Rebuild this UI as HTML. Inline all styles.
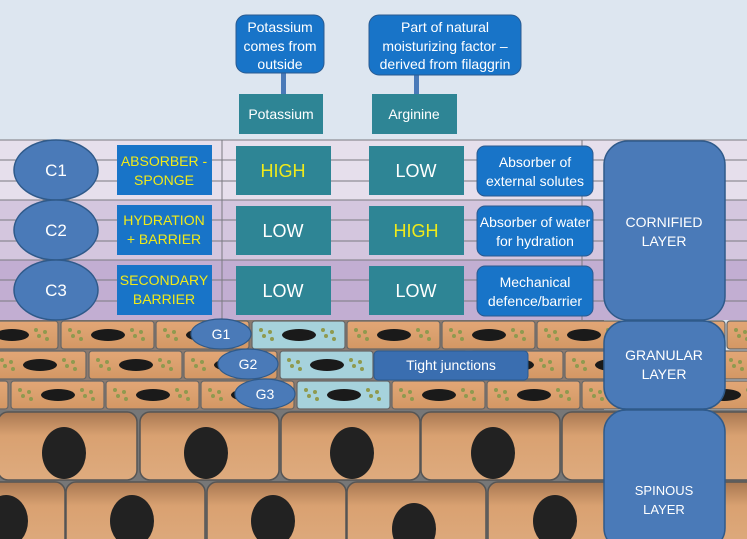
<!DOCTYPE html>
<html><head><meta charset="utf-8"><style>
html,body{margin:0;padding:0;background:#dde6f0}
svg{display:block}
text{font-family:"Liberation Sans",sans-serif}
</style></head><body>
<svg width="747" height="539" viewBox="0 0 747 539" xmlns="http://www.w3.org/2000/svg">
<defs>
<linearGradient id="og" x1="0" y1="0" x2="0" y2="1"><stop offset="0" stop-color="#e3a676"/><stop offset="0.5" stop-color="#daa06e"/><stop offset="1" stop-color="#d49764"/></linearGradient>
<linearGradient id="sg" x1="0" y1="0" x2="0" y2="1"><stop offset="0" stop-color="#a97852"/><stop offset="0.35" stop-color="#d9a171"/><stop offset="1" stop-color="#deab7e"/></linearGradient>
<g id="dots"><circle cx="0" cy="0" r="2" fill="#8f9a4f"/><circle cx="6" cy="-4" r="2" fill="#8f9a4f"/><circle cx="8" cy="3" r="2" fill="#8f9a4f"/><circle cx="-3" cy="-6" r="2" fill="#8f9a4f"/></g>
<g id="gc"><rect x="0" y="0" width="93" height="28" rx="3" fill="url(#og)" stroke="#666" stroke-width="1.2"/><ellipse cx="47" cy="14" rx="17" ry="6" fill="#1a1a1a"/><use href="#dots" x="12" y="15"/><use href="#dots" x="74" y="15"/></g>
<g id="gb"><rect x="0" y="0" width="93" height="28" rx="3" fill="#a6d2dc" stroke="#666" stroke-width="1.2"/><ellipse cx="47" cy="14" rx="17" ry="6" fill="#1a1a1a"/><use href="#dots" x="12" y="15"/><use href="#dots" x="74" y="15"/></g>
<g id="sc"><rect x="0" y="0" width="139" height="68" rx="10" fill="url(#sg)" stroke="#555" stroke-width="1.5"/></g>
</defs>
<rect x="0" y="0" width="747" height="140" fill="#dde6f0"/>
<!-- cornified rows -->
<rect x="0" y="140" width="747" height="60" fill="#e6dfec"/>
<rect x="0" y="200" width="747" height="60" fill="#d4c6de"/>
<rect x="0" y="260" width="747" height="60" fill="#c2aed2"/>
<g stroke="#7a7a80" stroke-width="1">
<line x1="0" y1="140" x2="747" y2="140"/><line x1="0" y1="160" x2="747" y2="160"/><line x1="0" y1="181" x2="747" y2="181"/>
<line x1="0" y1="200" x2="747" y2="200"/><line x1="0" y1="220" x2="747" y2="220"/><line x1="0" y1="241" x2="747" y2="241"/>
<line x1="0" y1="260" x2="747" y2="260"/><line x1="0" y1="280" x2="747" y2="280"/><line x1="0" y1="301" x2="747" y2="301"/>
<line x1="222" y1="140" x2="222" y2="320"/><line x1="582" y1="140" x2="582" y2="320"/>
</g>
<!-- granular rows -->
<rect x="0" y="320" width="604" height="90" fill="#8a7a70"/>
<g>
<use href="#gc" x="-35" y="321"/><use href="#gc" x="61" y="321"/><use href="#gc" x="156" y="321"/><use href="#gb" x="252" y="321"/><use href="#gc" x="347" y="321"/><use href="#gc" x="442" y="321"/><use href="#gc" x="537" y="321"/><use href="#gc" x="632" y="321"/><use href="#gc" x="727" y="321"/>
<use href="#gc" x="-7" y="351"/><use href="#gc" x="89" y="351"/><use href="#gc" x="184" y="351"/><use href="#gb" x="280" y="351"/><use href="#gc" x="375" y="351"/><use href="#gc" x="470" y="351"/><use href="#gc" x="565" y="351"/><use href="#gc" x="660" y="351"/>
<use href="#gc" x="-85" y="381"/><use href="#gc" x="11" y="381"/><use href="#gc" x="106" y="381"/><use href="#gc" x="201" y="381"/><use href="#gb" x="297" y="381"/><use href="#gc" x="392" y="381"/><use href="#gc" x="487" y="381"/><use href="#gc" x="582" y="381"/><use href="#gc" x="677" y="381"/>
</g>
<!-- spinous -->
<rect x="0" y="410" width="747" height="129" fill="#777"/>
<use href="#sc" x="-2" y="412"/><use href="#sc" x="140" y="412"/><use href="#sc" x="281" y="412"/><use href="#sc" x="421" y="412"/><use href="#sc" x="562" y="412"/><use href="#sc" x="703" y="412"/>
<use href="#sc" x="-74" y="482"/><use href="#sc" x="66" y="482"/><use href="#sc" x="207" y="482"/><use href="#sc" x="347" y="482"/><use href="#sc" x="488" y="482"/><use href="#sc" x="628" y="482"/>
<g fill="#222">
<ellipse cx="64" cy="453" rx="22" ry="26"/><ellipse cx="206" cy="453" rx="22" ry="26"/><ellipse cx="352" cy="453" rx="22" ry="26"/><ellipse cx="493" cy="453" rx="22" ry="26"/>
<ellipse cx="6" cy="521" rx="22" ry="26"/><ellipse cx="132" cy="521" rx="22" ry="26"/><ellipse cx="273" cy="521" rx="22" ry="26"/><ellipse cx="414" cy="529" rx="22" ry="26"/><ellipse cx="555" cy="521" rx="22" ry="26"/>
</g>
<!-- top callouts -->
<rect x="281" y="72" width="5" height="24" fill="#4a7ab8"/>
<rect x="414" y="72" width="5" height="24" fill="#4a7ab8"/>
<rect x="236" y="15" width="88" height="58" rx="10" fill="#1874c8" stroke="#2a5a90"/>
<text fill="#fff" font-size="14" text-anchor="middle"><tspan x="280" y="32">Potassium</tspan><tspan x="280" y="51">comes from</tspan><tspan x="280" y="69">outside</tspan></text>
<rect x="369" y="15" width="152" height="60" rx="10" fill="#1874c8" stroke="#2a5a90"/>
<text fill="#fff" font-size="14" text-anchor="middle"><tspan x="445" y="32">Part of natural</tspan><tspan x="445" y="51">moisturizing factor –</tspan><tspan x="445" y="69">derived from filaggrin</tspan></text>
<rect x="239" y="94" width="84" height="40" fill="#2e8595"/>
<text x="281" y="119" fill="#fff" font-size="14" text-anchor="middle">Potassium</text>
<rect x="372" y="94" width="85" height="40" fill="#2e8595"/>
<text x="414" y="119" fill="#fff" font-size="14" text-anchor="middle">Arginine</text>
<!-- C ellipses -->
<g fill="#4a7ab8" stroke="#2f5a8a" stroke-width="1.5">
<ellipse cx="56" cy="170" rx="42" ry="30"/><ellipse cx="56" cy="230" rx="42" ry="30"/><ellipse cx="56" cy="290" rx="42" ry="30"/>
</g>
<g fill="#fff" font-size="17" text-anchor="middle"><text x="56" y="176">C1</text><text x="56" y="236">C2</text><text x="56" y="296">C3</text></g>
<!-- yellow boxes -->
<g fill="#1874c8"><rect x="117" y="145" width="95" height="50"/><rect x="117" y="205" width="95" height="50"/><rect x="117" y="265" width="95" height="50"/></g>
<g fill="#f0ea1a" font-size="14" text-anchor="middle">
<text><tspan x="164" y="166">ABSORBER -</tspan><tspan x="164" y="185">SPONGE</tspan></text>
<text><tspan x="164" y="225">HYDRATION</tspan><tspan x="164" y="244">+ BARRIER</tspan></text>
<text><tspan x="164" y="285">SECONDARY</tspan><tspan x="164" y="304">BARRIER</tspan></text>
</g>
<!-- teal boxes -->
<g fill="#2e8595"><rect x="236" y="146" width="95" height="49"/><rect x="236" y="206" width="95" height="49"/><rect x="236" y="266" width="95" height="49"/>
<rect x="369" y="146" width="95" height="49"/><rect x="369" y="206" width="95" height="49"/><rect x="369" y="266" width="95" height="49"/></g>
<g font-size="18" text-anchor="middle">
<text x="283" y="177" fill="#f0ea1a">HIGH</text><text x="283" y="237" fill="#fff">LOW</text><text x="283" y="297" fill="#fff">LOW</text>
<text x="416" y="177" fill="#fff">LOW</text><text x="416" y="237" fill="#f0ea1a">HIGH</text><text x="416" y="297" fill="#fff">LOW</text>
</g>
<!-- description boxes -->
<g fill="#1874c8" stroke="#2a5a90"><rect x="477" y="146" width="116" height="50" rx="8"/><rect x="477" y="206" width="116" height="50" rx="8"/><rect x="477" y="266" width="116" height="50" rx="8"/></g>
<g fill="#fff" font-size="14" text-anchor="middle">
<text><tspan x="535" y="167">Absorber of</tspan><tspan x="535" y="186">external solutes</tspan></text>
<text><tspan x="535" y="227">Absorber of water</tspan><tspan x="535" y="246">for hydration</tspan></text>
<text><tspan x="535" y="287">Mechanical</tspan><tspan x="535" y="306">defence/barrier</tspan></text>
</g>
<!-- layer boxes -->
<g fill="#4a7ab8" stroke="#2f5a8a" stroke-width="1.5">
<rect x="604" y="141" width="121" height="179" rx="24"/>
<rect x="604" y="321" width="121" height="88" rx="22"/>
<rect x="604" y="410" width="121" height="140" rx="22"/>
</g>
<g fill="#fff" font-size="14" text-anchor="middle">
<text><tspan x="664" y="227">CORNIFIED</tspan><tspan x="664" y="246">LAYER</tspan></text>
<text><tspan x="664" y="360">GRANULAR</tspan><tspan x="664" y="379">LAYER</tspan></text>
<text font-size="13"><tspan x="664" y="495">SPINOUS</tspan><tspan x="664" y="514">LAYER</tspan></text>
</g>
<!-- tight junctions -->
<rect x="374" y="351" width="154" height="29" rx="4" fill="#3a6eb0" stroke="#2a5a90"/>
<text x="451" y="370" fill="#fff" font-size="14" text-anchor="middle">Tight junctions</text>
<!-- G ellipses -->
<g fill="#4a7ab8" stroke="#2f5a8a" stroke-width="1.2">
<ellipse cx="221" cy="334" rx="30" ry="15"/><ellipse cx="248" cy="364" rx="30" ry="15"/><ellipse cx="265" cy="394" rx="30" ry="15"/>
</g>
<g fill="#fff" font-size="14" text-anchor="middle"><text x="221" y="339">G1</text><text x="248" y="369">G2</text><text x="265" y="399">G3</text></g>
</svg>
</body></html>
